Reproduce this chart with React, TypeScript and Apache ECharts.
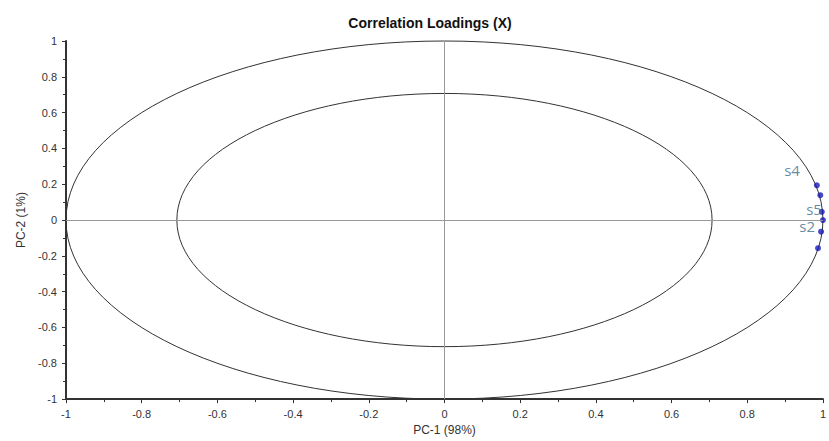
import React, { useEffect, useRef } from "react";
import * as echarts from "echarts";

const pointNames = ["s4", "s1", "s3", "s5", "s2", "s6"];
const pc1Values = [0.984, 0.993, 0.997, 1.0, 0.995, 0.987];
const pc2Values = [0.194, 0.139, 0.046, 0.0, -0.065, -0.157];
const shownLabels = ["s4", "s5", "s2"];
const labelOffsets: Record<string, number[]> = { s4: [-10, -15], s5: [6, -11], s2: [1, -6] };
const circleRadii = [1, Math.SQRT1_2];
const axisTicks = [-1, -0.8, -0.6, -0.4, -0.2, 0, 0.2, 0.4, 0.6, 0.8, 1];

export default function App() {
  const ref = useRef<HTMLDivElement>(null);
  useEffect(() => {
    const chart = echarts.init(ref.current!, null, { renderer: "svg" });
    const font = "'Liberation Sans', Arial, sans-serif";
    const axisCommon = {
      type: "value",
      min: axisTicks[0],
      max: axisTicks[axisTicks.length - 1],
      interval: 0.2,
      axisLine: { show: true, onZero: false, lineStyle: { color: "#333", width: 2 } },
      axisTick: { show: true, inside: false, length: 4, lineStyle: { color: "#333", width: 1 } },
      minorTick: { show: true, splitNumber: 2, length: 3, lineStyle: { color: "#333", width: 1 } },
      splitLine: { show: false },
      axisLabel: { color: "#333", fontSize: 11, fontFamily: font, margin: 9 },
      nameLocation: "middle",
      nameTextStyle: { color: "#333", fontSize: 12, fontFamily: font },
    };
    chart.setOption({
      animation: false,
      backgroundColor: "#fff",
      title: {
        text: "Correlation Loadings (X)",
        left: 425,
        textAlign: "center",
        top: 11,
        textStyle: { fontSize: 14, fontWeight: "bold", color: "#111", fontFamily: font },
      },
      grid: { left: 66, width: 761, top: 41, height: 359, containLabel: false },
      xAxis: { ...axisCommon, name: "PC-1 (98%)", nameGap: 24 },
      yAxis: { ...axisCommon, name: "PC-2 (1%)", nameGap: 37, nameRotate: 90 },
      series: [
        {
          type: "custom",
          silent: true,
          clip: false,
          data: circleRadii.map((r) => [r, r]),
          encode: { x: 0, y: 1 },
          renderItem: (params: any, api: any) => {
            const r = api.value(0);
            const c = api.coord([0, 0]);
            const e = api.coord([r, r]);
            return {
              type: "ellipse",
              shape: { cx: c[0], cy: c[1], rx: e[0] - c[0], ry: c[1] - e[1] },
              style: { fill: "none", stroke: "#333", lineWidth: 1 },
            };
          },
          z: 1,
        },
        {
          type: "scatter",
          symbolSize: 6,
          clip: false,
          itemStyle: { color: "#1a1ab8" },
          data: pointNames.map((n, i) => {
            const show = shownLabels.includes(n);
            return {
              name: n,
              value: [pc1Values[i], pc2Values[i]],
              label: {
                show,
                formatter: n,
                position: "left",
                distance: 4,
                offset: show ? labelOffsets[n] : [0, 0],
                color: "#3d6d8c",
                fontSize: 15,
                fontFamily: "'Open Sans', 'DejaVu Sans', sans-serif",
              },
            };
          }),
          markLine: {
            silent: true,
            symbol: "none",
            label: { show: false },
            lineStyle: { color: "#999", width: 1, type: "solid" },
            data: [{ xAxis: 0 }, { yAxis: 0 }],
          },
          z: 3,
        },
      ],
    });
    return () => chart.dispose();
  }, []);
  return (
    <div
      ref={ref}
      style={{ position: "fixed", left: 0, top: 0, width: 829, height: 441 }}
    />
  );
}
